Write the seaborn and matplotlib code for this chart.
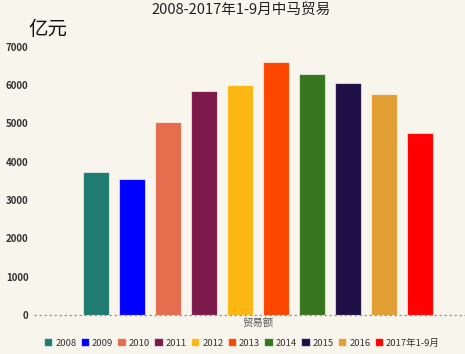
import seaborn as sns
import matplotlib.pyplot as plt
import pandas as pd

years = ['2008', '2009', '2010', '2011', '2012', '2013', '2014', '2015', '2016', '2017年1-9月']
values = [3740, 3540, 5035, 5845, 5990, 6590, 6280, 6045, 5755, 4740]
colors = ['#207b70', '#0000ff', '#e76d4f', '#7e1a4b', '#fdb714',
          '#fb4700', '#37761e', '#1e1047', '#e19f34', '#ff0000']
category = '贸易额'

df = pd.DataFrame({'cat': [category] * len(years), 'year': years, 'value': values})

sns.set_style('white')
plt.rcParams['font.family'] = ['Noto Sans CJK SC', 'DejaVu Sans']
bg = '#f8f5ec'

fig = plt.figure(figsize=(4.65, 3.54), dpi=100, facecolor=bg)
ax = fig.add_axes([0.073, 0.110, 0.927, 0.758], facecolor=bg)

sns.barplot(data=df, x='cat', y='value', hue='year', palette=colors, saturation=1,
            width=0.8, gap=0.29, ax=ax, edgecolor=(1, 1, 1, 0.6), linewidth=0.8)

ax.set_ylim(0, 7000)
ax.set_xlim(-0.498, 0.46)
ax.set_yticks(range(0, 7001, 1000))
ax.tick_params(axis='y', length=0, labelsize=7, labelcolor='#333333', pad=4)
ax.tick_params(axis='x', length=0, labelsize=7.5, labelcolor='#555555', pad=2)
for lab in ax.get_yticklabels():
    lab.set_fontweight('bold')
for s in ax.spines.values():
    s.set_visible(False)
ax.axhline(0, color='#999999', lw=0.9, ls=(0, (2, 2)), clip_on=False)
ax.set_xlabel('')
ax.set_ylabel('')

fig.text(0.518, 0.972, '2008-2017年1-9月中马贸易', ha='center', va='center',
         fontsize=10.5, color='#222222')
fig.text(0.06, 0.917, '亿元', ha='left', va='center', fontsize=14, color='#111111')

handles, labels = ax.get_legend_handles_labels()
ax.legend(handles, labels, loc='center', bbox_to_anchor=(0.52, 0.031),
          bbox_transform=fig.transFigure, ncol=10, frameon=False, fontsize=6.8,
          handlelength=0.9, handleheight=0.9, handletextpad=0.3,
          columnspacing=0.45, labelcolor='#333333', borderpad=0)

fig.savefig('out.png', dpi=100, facecolor=bg)
